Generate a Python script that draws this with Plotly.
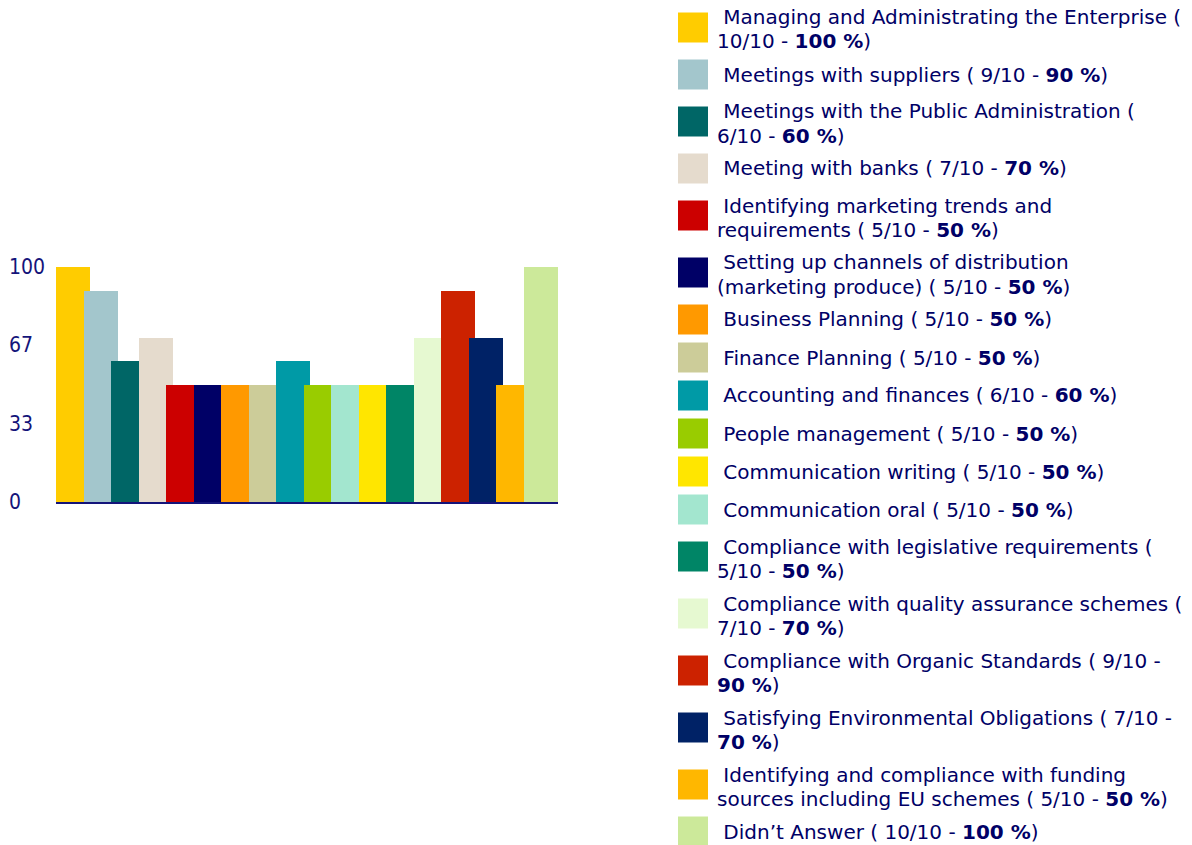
import plotly.graph_objects as go

# ---------------- data (legend order) ----------------
names = [
    "Managing and Administrating the Enterprise",
    "Meetings with suppliers",
    "Meetings with the Public Administration",
    "Meeting with banks",
    "Identifying marketing trends and\nrequirements",
    "Setting up channels of distribution\n(marketing produce)",
    "Business Planning",
    "Finance Planning",
    "Accounting and finances",
    "People management",
    "Communication writing",
    "Communication oral",
    "Compliance with legislative requirements",
    "Compliance with quality assurance schemes",
    "Compliance with Organic Standards",
    "Satisfying Environmental Obligations",
    "Identifying and compliance with funding\nsources including EU schemes",
    "Didn\u2019t Answer",
]
counts = [10, 9, 6, 7, 5, 5, 5, 5, 6, 5, 5, 5, 5, 7, 9, 7, 5, 10]
percents = [100, 90, 60, 70, 50, 50, 50, 50, 60, 50, 50, 50, 50, 70, 90, 70, 50, 100]
colors = [
    "#FFCC00", "#A3C6CC", "#006666", "#E5DBCD", "#CC0000", "#000066",
    "#FF9900", "#CCCC99", "#009AA6", "#99CC00", "#FFE600", "#A3E6CF",
    "#008566", "#E6F9D1", "#CC2200", "#002266", "#FFB700", "#CCE99A",
]
# order in which the bars appear left to right (indices into the lists above)
bar_order = [0, 1, 2, 3, 4, 5, 6, 7, 8, 9, 11, 10, 12, 13, 14, 15, 16, 17]
# where the legend text wraps: None, "paren" (after "("), "dash" (after "-")
wraps = [
    "paren", None, "paren", None, None, None, None, None, None, None,
    None, None, "paren", "paren", "dash", "dash", None, None,
]
y_ticks = [100, 66.7, 33.3, 0]
y_tick_text = ["100", "67", "33", "0"]

# ---------------- figure geometry ----------------
W, H = 1192, 845
PL, PR, PT, PB = 56, 558, 267, 502  # plot area in pixels

def px(x):
    return x / W

def py(y):
    return 1 - y / H

NAVY = "#000066"

bar_x = list(range(len(bar_order)))
bar_y = [percents[i] for i in bar_order]
bar_c = [colors[i] for i in bar_order]

fig = go.Figure()
fig.add_trace(go.Bar(
    x=bar_x, y=bar_y, width=1.235,
    marker=dict(color=bar_c, line=dict(width=0)),
    hoverinfo="skip",
))

annotations = []
# y tick labels (left aligned)
for v, t in zip(y_ticks, y_tick_text):
    annotations.append(dict(
        x=px(7), xref="paper", xanchor="left",
        y=v, yref="y", yanchor="middle",
        text=t, showarrow=False,
        font=dict(family="Liberation Sans Narrow, DejaVu Sans Condensed, sans-serif",
                  size=21, color="#14147a"),
    ))

# legend: squares + text
shapes = []
NB = "\u00a0"
FONT = dict(family="DejaVu Sans, Verdana, sans-serif", size=20, color=NAVY)
top = 12.5
prev_lines = None
for i in range(len(names)):
    nm = names[i]
    tail = f"{counts[i]}/10 - <b>{percents[i]} %</b>)"
    if "\n" in nm:
        l1, l2 = nm.split("\n")
        lines = [NB + l1, l2 + " ( " + tail]
    elif wraps[i] == "paren":
        lines = [NB + nm + " (", tail]
    elif wraps[i] == "dash":
        a, b = tail.split(" - ")
        lines = [NB + nm + " ( " + a + " -", b]
    else:
        lines = [NB + nm + " ( " + tail]
    n = len(lines)
    if prev_lines is not None:
        if prev_lines == 1 and n == 1:
            top += 38
        elif prev_lines == 2 and n == 2:
            top += 57
        else:
            top += 47
    prev_lines = n
    shapes.append(dict(
        type="rect", xref="paper", yref="paper",
        x0=px(678), x1=px(708), y0=py(top), y1=py(top + 30),
        fillcolor=colors[i], line=dict(width=0),
    ))
    if n == 1:
        centers = [top + 15]
    else:
        centers = [top + 5, top + 29]
    for ln, cy in zip(lines, centers):
        annotations.append(dict(
            x=px(715), xref="paper", xanchor="left",
            y=py(cy), yref="paper", yanchor="middle",
            text=ln, showarrow=False, font=FONT,
        ))

fig.update_layout(
    width=W, height=H,
    margin=dict(l=0, r=0, t=0, b=0, pad=0),
    paper_bgcolor="white", plot_bgcolor="white",
    showlegend=False, bargap=0,
    xaxis=dict(domain=[px(PL), px(PR)], range=[-0.6175, 17.6175],
               showgrid=False, zeroline=False, showticklabels=False,
               ticks="", showline=True, linecolor="#14147a", linewidth=2,
               fixedrange=True),
    yaxis=dict(domain=[py(PB), py(PT)], range=[0, 100],
               showgrid=False, zeroline=False, showticklabels=False,
               ticks="", showline=False, fixedrange=True),
    annotations=annotations,
    shapes=shapes,
)

fig.write_html("out.html", config={"displayModeBar": False},
               post_script="document.body.style.margin='0';document.body.style.overflow='hidden';")
